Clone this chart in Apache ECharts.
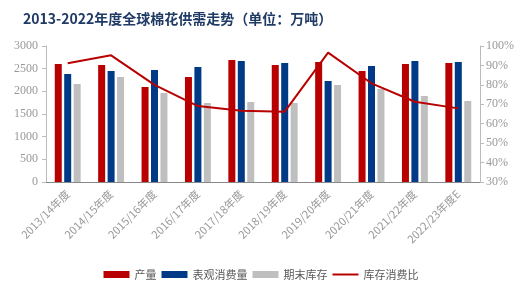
<!DOCTYPE html>
<html><head><meta charset="utf-8">
<script src="https://cdn.jsdelivr.net/npm/echarts@6/dist/echarts.min.js"></script>
<style>html,body{margin:0;padding:0;background:#fff}#c{width:522px;height:295px}</style>
</head><body><div id="c"></div>
<script>
var categories = ['2013/14年度','2014/15年度','2015/16年度','2016/17年度','2017/18年度','2018/19年度','2019/20年度','2020/21年度','2021/22年度','2022/23年度E'];
var production = [2603, 2581, 2096, 2316, 2691, 2581, 2647, 2449, 2603, 2625];
var consumption = [2382, 2449, 2471, 2537, 2669, 2625, 2228, 2559, 2669, 2647];
var stocks = [2162, 2316, 1963, 1743, 1765, 1743, 2140, 2052, 1897, 1787];
var ratio = [91.1, 95.2, 80.0, 69.1, 66.7, 66.2, 96.6, 80.8, 71.3, 67.9];
var leftTicks = [0, 3000, 500];
var rightTicks = [30, 100, 10];

var chart = echarts.init(document.getElementById('c'));
var axisLabelStyle = {color:'#999', fontFamily:'Liberation Serif', fontSize:12};
chart.setOption({
  animation:false,
  title:{text:'2013-2022年度全球棉花供需走势（单位：万吨）', left:18, top:7,
    textStyle:{fontFamily:'Noto Sans CJK SC', fontWeight:'bold', fontSize:14, color:'#1f3a64'}},
  legend:{left:'center', top:264, itemWidth:26, itemHeight:7, itemGap:5,
    textStyle:{fontFamily:'Noto Sans CJK SC', fontSize:11, color:'#595959'},
    data:[{name:'产量', icon:'rect'},{name:'表观消费量', icon:'rect'},{name:'期末库存', icon:'rect'},
      {name:'库存消费比', icon:'path://M0,0 L26,0 L26,2 L0,2 Z'}]},
  grid:{left:46, right:42, top:46, bottom:113},
  xAxis:{type:'category', data:categories,
    axisLine:{lineStyle:{color:'#888'}}, axisTick:{show:false},
    axisLabel:{rotate:45, interval:0, margin:10, color:'#999', fontFamily:'Noto Sans CJK SC', fontSize:11}},
  yAxis:[
    {type:'value', min:leftTicks[0], max:leftTicks[1], interval:leftTicks[2],
      axisLine:{show:true, lineStyle:{color:'#bbb'}}, axisTick:{show:true, length:4, lineStyle:{color:'#bbb'}},
      splitLine:{show:false}, axisLabel:Object.assign({margin:8, formatter:function(v){return String(v);}}, axisLabelStyle)},
    {type:'value', min:rightTicks[0], max:rightTicks[1], interval:rightTicks[2], position:'right',
      axisLine:{show:true, lineStyle:{color:'#bbb'}}, axisTick:{show:true, length:4, lineStyle:{color:'#bbb'}},
      splitLine:{show:false}, axisLabel:Object.assign({margin:6, formatter:'{value}%'}, axisLabelStyle)}
  ],
  series:[
    {name:'产量', type:'bar', data:production, barWidth:7, barGap:'35%', itemStyle:{color:'#b80000'}},
    {name:'表观消费量', type:'bar', data:consumption, barWidth:7, barGap:'35%', itemStyle:{color:'#003a87'}},
    {name:'期末库存', type:'bar', data:stocks, barWidth:7, barGap:'35%', itemStyle:{color:'#bfbfbf'}},
    {name:'库存消费比', type:'line', yAxisIndex:1, data:ratio, symbol:'none',
      lineStyle:{color:'#b80000', width:2}, itemStyle:{color:'#b80000'}}
  ]
});
</script></body></html>
